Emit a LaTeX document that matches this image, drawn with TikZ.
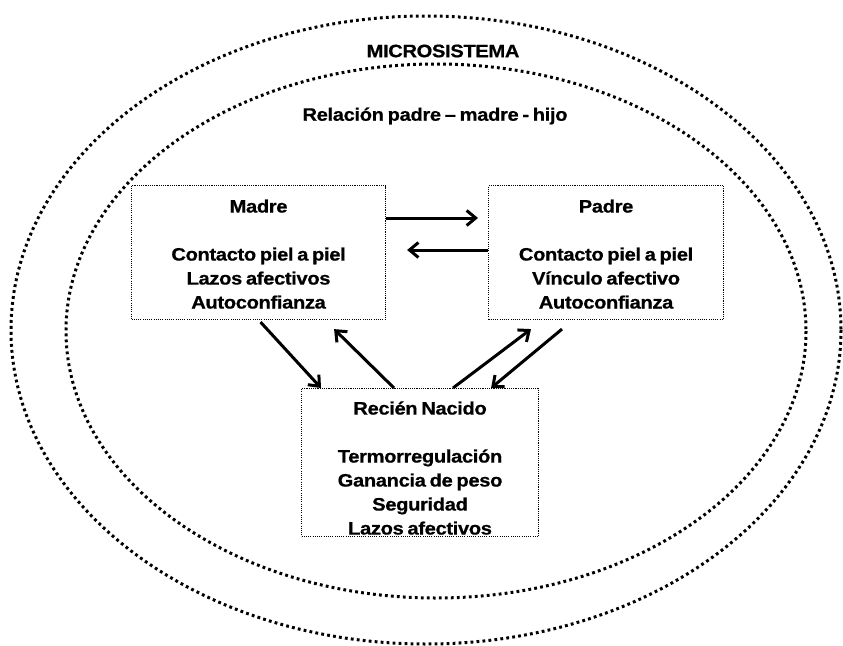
\documentclass[tikz,border=0pt]{standalone}
\usepackage{fontspec}
\setmainfont{Liberation Sans}[FakeStretch=1.12, LetterSpace=-2, WordSpace=0.7, BoldFeatures={FakeBold=0.6}]
\usetikzlibrary{arrows.meta}
\tikzset{
  ring/.style={line width=3pt, dash pattern=on 2.8pt off 3.2pt},
  dbox/.style={draw, line width=1.1pt, dash pattern=on 1.1pt off 1.1pt, inner sep=0pt, align=center, anchor=north west, font=\bfseries\fontsize{18}{24}\selectfont},
  lbl/.style={font=\bfseries\fontsize{18}{24}\selectfont, inner sep=0pt},
  arr/.style={line width=3pt, -{Straight Barb[length=9pt,width=15pt]}}
}
\begin{document}
\begin{tikzpicture}[x=1pt,y=-1pt]
\useasboundingbox (0,0) rectangle (843,645);
\draw[ring] (426,330) ellipse [x radius=415, y radius=314];
\draw[ring] (436,331) ellipse [x radius=370, y radius=267];
\node[lbl] (micro) at (443,51) {MICROSISTEMA};
\node[lbl] (rel) at (435,116) {Relación padre – madre - hijo};
\node[dbox, minimum width=254pt, text height=123pt, text depth=11pt] (mad) at (131,185)
  {Madre\\[24pt]Contacto piel a piel\\Lazos afectivos\\Autoconfianza};
\node[dbox, minimum width=235pt, text height=123pt, text depth=11pt] (pad) at (488,185)
  {Padre\\[24pt]Contacto piel a piel\\Vínculo afectivo\\Autoconfianza};
\node[dbox, minimum width=237pt, text height=146pt, text depth=2pt] (rn) at (301,388)
  {Recién Nacido\\[24pt]Termorregulación\\Ganancia de peso\\Seguridad\\Lazos afectivos};
\draw[arr] ([shift={(0,33)}]mad.north east) -- ([shift={(-10,33)}]pad.north west);
\draw[arr] ([shift={(0,65)}]pad.north west) -- ([shift={(21,65)}]mad.north east);
\draw[arr] ([shift={(2,2)}]mad.south) -- ([shift={(20,0)}]rn.north west);
\draw[arr] ([shift={(93,0)}]rn.north west) -- ([shift={(-52,9)}]mad.south east);
\draw[arr] ([shift={(152,0)}]rn.north west) -- ([shift={(43,9)}]pad.south west);
\draw[arr] ([shift={(74,9)}]pad.south west) -- ([shift={(-48,0)}]rn.north east);
\end{tikzpicture}
\end{document}
